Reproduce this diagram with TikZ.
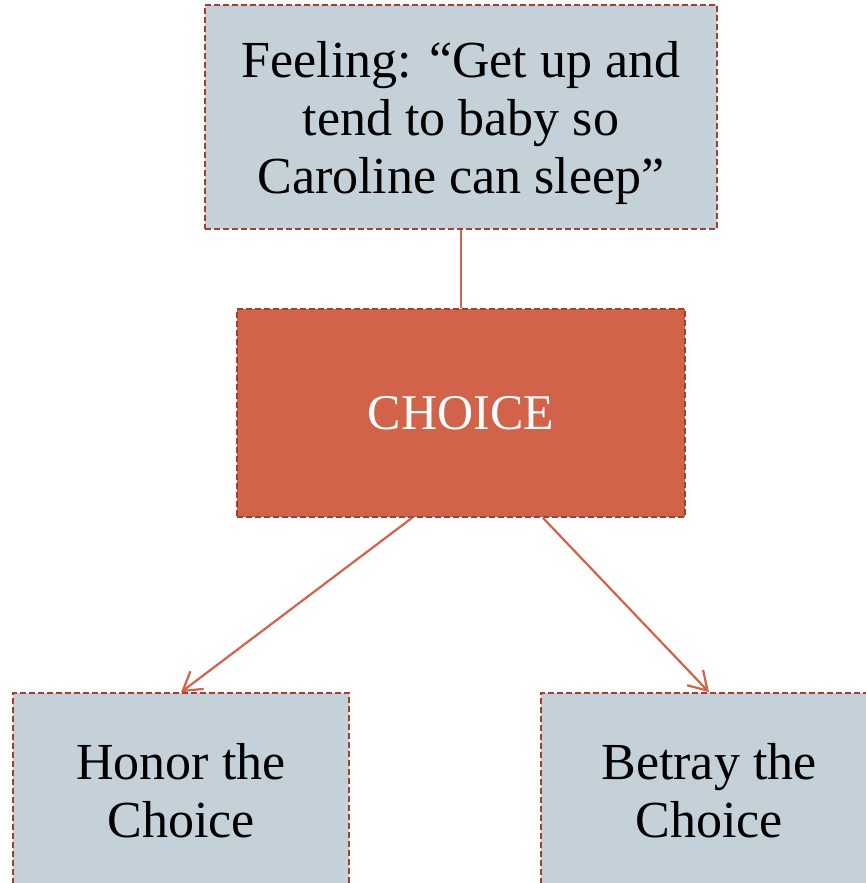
\documentclass[tikz,border=0pt]{standalone}
\usepackage{fontspec}
\setmainfont{Liberation Serif}
\usetikzlibrary{arrows.meta}
\definecolor{boxgray}{HTML}{C5D1D8}
\definecolor{boxred}{HTML}{D0634A}
\definecolor{rim}{HTML}{A3402F}
\definecolor{wire}{HTML}{D0634A}
\begin{document}
\begin{tikzpicture}[x=1pt,y=-1pt]

        \useasboundingbox (0,0) rectangle (866,883);
        \clip (0,0) rectangle (866,883);

        \begin{scope}[every node/.style={rectangle, draw=rim, line width=1.6pt,
            dash pattern=on 6pt off 3pt, fill=boxgray, align=center,
            font=\fontsize{52}{58}\selectfont, inner sep=0pt}]
          \node[minimum width=512, minimum height=224] (1) at (461,117)
            {\raisebox{-7pt}[\height][\depth]{\begin{tabular}{@{}c@{}}Feeling: “Get up and\\tend to baby so\\Caroline can sleep”\end{tabular}}};
          \node[minimum width=448, minimum height=208, fill=boxred, text=white,
            font=\fontsize{50}{58}\selectfont] (2) at (461,413) {CHOICE};
          \node[minimum width=336, minimum height=196] (3) at (181,791) {Honor the\\Choice};
          \node[minimum width=336, minimum height=196] (4) at (709,791) {Betray the\\Choice};
        \end{scope}

        \begin{scope}[every edge/.style={draw=wire, line width=2.2pt}]
          \path (1) edge (2);
          \path (2.-115) edge[-{Straight Barb[length=18pt,width=22pt]}] (3.north);
          \path (2.-52)  edge[-{Straight Barb[length=18pt,width=22pt]}] (4.north);
        \end{scope}

      \end{tikzpicture}
\end{document}
